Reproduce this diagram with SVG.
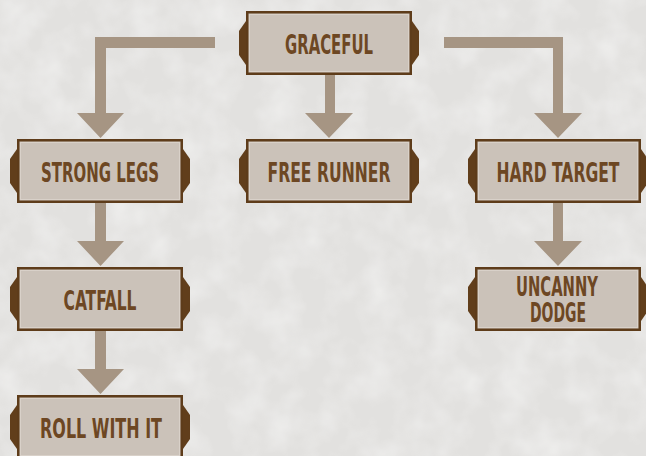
<svg xmlns="http://www.w3.org/2000/svg" width="646" height="456" viewBox="0 0 646 456">
<defs>
<filter id="tex" x="0" y="0" width="100%" height="100%">
<feTurbulence type="fractalNoise" baseFrequency="0.03" numOctaves="3" seed="4" result="n"/>
<feColorMatrix in="n" type="matrix" values="0 0 0 0 1  0 0 0 0 1  0 0 0 0 1  0 0 0 -1.2 0.75" result="w"/>
<feComposite in="w" in2="SourceGraphic" operator="in"/>
</filter>
<g id="node">
<path class="tab" d="M0,10 L-7,20 L-7,44 L0,54 Z"/>
<path class="tab" d="M166,10 L173,20 L173,44 L166,54 Z"/>
<rect class="box" x="1.25" y="1.25" width="163.5" height="61.5"/>
<rect class="inner" x="3.5" y="3.5" width="159" height="57"/>
</g>
</defs>
<style>
.tab{fill:#613e1b}
.box{fill:#cbc2b9;stroke:#5e3c1a;stroke-width:2.5}
.inner{fill:none;stroke:#d9d1c9;stroke-width:1}
.arrow{fill:#a69583}
.lbl{font-family:"DejaVu Sans Condensed","DejaVu Sans",sans-serif;font-stretch:condensed;font-weight:bold;font-size:19.5px;fill:#6d4723;text-anchor:middle}
</style>
<rect width="646" height="456" fill="#e2e1df"/>
<rect width="646" height="456" fill="#e2e1df" filter="url(#tex)" opacity="0.6"/>
<g id="connectors">
<path class="arrow" d="M215,37 L95,37 L95,113 L77,113 L100.5,138 L124,113 L106,113 L106,48 L215,48 Z"/>
<path class="arrow" d="M444,37 L563,37 L563,113 L582,113 L558,138 L534,113 L553,113 L553,48 L444,48 Z"/>
<path class="arrow" d="M325,75 L335,75 L335,113 L353,113 L329,138 L305,113 L325,113 Z"/>
<path class="arrow" d="M95,203 L106,203 L106,241 L124,241 L100.5,266 L77,241 L95,241 Z"/>
<path class="arrow" d="M95,331 L106,331 L106,369 L124,369 L100.5,394 L77,369 L95,369 Z"/>
<path class="arrow" d="M553,203 L563,203 L563,241 L582,241 L558,266 L534,241 L553,241 Z"/>
</g>
<g id="graceful"><use href="#node" x="246" y="11"/><text class="lbl" transform="translate(329,53.5) scale(1,1.4)" textLength="88" lengthAdjust="spacingAndGlyphs">GRACEFUL</text></g>
<g id="strong-legs"><use href="#node" x="17" y="139"/><text class="lbl" transform="translate(100,181.5) scale(1,1.4)" textLength="118" lengthAdjust="spacingAndGlyphs">STRONG LEGS</text></g>
<g id="free-runner"><use href="#node" x="246" y="139"/><text class="lbl" transform="translate(329,181.5) scale(1,1.4)" textLength="123" lengthAdjust="spacingAndGlyphs">FREE RUNNER</text></g>
<g id="hard-target"><use href="#node" x="475" y="139"/><text class="lbl" transform="translate(558,181.5) scale(1,1.4)" textLength="123" lengthAdjust="spacingAndGlyphs">HARD TARGET</text></g>
<g id="catfall"><use href="#node" x="17" y="267"/><text class="lbl" transform="translate(100,309.5) scale(1,1.4)" textLength="73" lengthAdjust="spacingAndGlyphs">CATFALL</text></g>
<g id="uncanny-dodge"><use href="#node" x="475" y="267"/><text class="lbl" transform="scale(1,1.4)"><tspan x="557" y="211.43" textLength="82" lengthAdjust="spacingAndGlyphs">UNCANNY</tspan><tspan x="558" y="230" textLength="56" lengthAdjust="spacingAndGlyphs">DODGE</tspan></text></g>
<g id="roll-with-it"><use href="#node" x="17" y="395"/><text class="lbl" transform="translate(101,437.5) scale(1,1.4)" textLength="122" lengthAdjust="spacingAndGlyphs">ROLL WITH IT</text></g>
</svg>
